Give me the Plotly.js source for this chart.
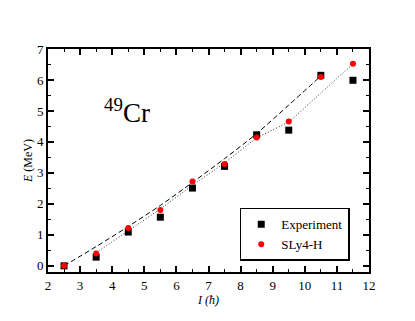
<!DOCTYPE html>
<html>
<head>
<meta charset="utf-8">
<script src="https://cdn.plot.ly/plotly-3.0.1.min.js"></script>
<style>
  body { margin: 0; }
  #chart { width: 415px; height: 321px; }
</style>
</head>
<body>
<div id="chart"></div>
<script>
// spin values I (hbar)
var spin = [2.5, 3.5, 4.5, 5.5, 6.5, 7.5, 8.5, 9.5, 10.5, 11.5]
var expE = [0, 0.28, 1.09, 1.57, 2.51, 3.21, 4.23, 4.38, 6.15, 5.99]
var slyE = [0, 0.40, 1.22, 1.80, 2.72, 3.29, 4.14, 4.66, 6.10, 6.52]

// dashed curve
var dashI = [2.5, 3.5, 4.5, 5.5, 6.5, 7.5, 8.5, 9.5, 10.5]
var dashE = [0, 0.62, 1.27, 1.95, 2.69, 3.46, 4.27, 5.19, 6.13]

// dotted curve
var dotI = [3.5, 4.5, 5.5, 6.5, 7.5, 8.5, 9.5, 10.5, 11.5]
var dotE = [0.42, 1.13, 1.84, 2.6, 3.32, 4.12, 4.66, 5.58, 6.52]

var serif = 'Times New Roman'

var data = [
    {x: dashI, y: dashE, type: 'scatter', mode: 'lines', showlegend: false,
        line: {color: 'black', width: 1, dash: '5px,3px', shape: 'spline', smoothing: 0.8}},
    {x: dotI, y: dotE, type: 'scatter', mode: 'lines', showlegend: false,
        line: {color: '#333', width: 1, dash: '1px,2px', shape: 'spline', smoothing: 0.6}},
    {x: spin, y: expE, type: 'scatter', mode: 'markers', name: 'Experiment',
        marker: {symbol: 'square', size: 7, color: 'black'}},
    {x: spin, y: slyE, type: 'scatter', mode: 'markers', name: 'SLy4-H',
        marker: {symbol: 'circle', size: 6, color: 'red'}}
];

var axisBase = {
    showgrid: false, zeroline: false,
    showline: true, linecolor: 'black', linewidth: 2,
    mirror: 'allticks', ticks: 'inside', ticklen: 6, tickwidth: 2, tickcolor: 'black',
    dtick: 1,
    minor: {dtick: 0.5, ticks: 'inside', ticklen: 3, tickwidth: 1, tickcolor: 'black'},
    tickfont: {family: serif, size: 13, color: 'black'}
};

var layout = {
    width: 415, height: 321,
    margin: {l: 48, r: 46, t: 49, b: 49},
    paper_bgcolor: 'white', plot_bgcolor: 'white',
    font: {family: serif, color: 'black'},
    xaxis: Object.assign({}, axisBase, {
        range: [2, 12], tick0: 2,
        title: {text: '<i>I (ħ)</i>', font: {family: serif, size: 12}, standoff: 2}
    }),
    yaxis: Object.assign({}, axisBase, {
        range: [-0.2, 7], tick0: 0,
        title: {text: '<i>E</i> (MeV)', font: {family: serif, size: 12}, standoff: 2}
    }),
    legend: {
        x: 0.94, y: 0.05, xanchor: 'right', yanchor: 'bottom',
        bordercolor: 'black', borderwidth: 1.5, bgcolor: 'white',
        font: {family: serif, size: 13, color: 'black'},
        itemwidth: 20, tracegroupgap: 0
    },
    annotations: [{
        x: 4.45, y: 5.0, xref: 'x', yref: 'y', showarrow: false,
        text: '<sup>49</sup>Cr', font: {family: serif, size: 27, color: 'black'}
    }]
};

Plotly.newPlot('chart', data, layout, {displayModeBar: false, staticPlot: true});
</script>
</body>
</html>
